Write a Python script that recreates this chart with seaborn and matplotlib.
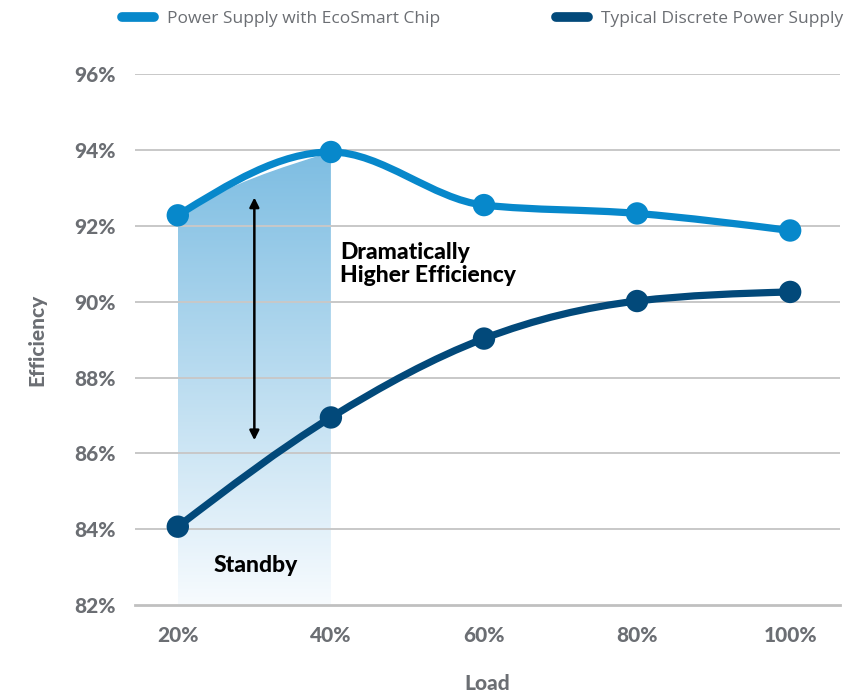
import numpy as np
import pandas as pd
import matplotlib
matplotlib.use("Agg")
import matplotlib.pyplot as plt
from matplotlib.path import Path
from matplotlib.patches import PathPatch
from matplotlib.lines import Line2D
import seaborn as sns

# ---- data -------------------------------------------------------------
load = [20, 40, 60, 80, 100]
ecosmart = [92.28, 93.95, 92.55, 92.33, 91.88]
discrete = [84.07, 86.95, 89.03, 90.02, 90.26]
series_names = ["Power Supply with EcoSmart Chip", "Typical Discrete Power Supply"]
x_ticks = [20, 40, 60, 80, 100]
x_tick_labels = ["20%", "40%", "60%", "80%", "100%"]
y_ticks = [82, 84, 86, 88, 90, 92, 94, 96]
y_tick_labels = ["82%", "84%", "86%", "88%", "90%", "92%", "94%", "96%"]

C_ECO = "#0788cb"
C_DIS = "#02497a"
C_GREY = "#6b6e73"

sns.set_theme(style="whitegrid")
plt.rcParams["font.family"] = ["Lato", "DejaVu Sans"]


def monotone_path(xs, ys):
    """Monotone cubic curve through the points, as a Bezier path."""
    xs = np.asarray(xs, float)
    ys = np.asarray(ys, float)
    n = len(xs)
    h = np.diff(xs)
    s = np.diff(ys) / h
    t = np.zeros(n)
    for i in range(1, n - 1):
        s0, s1 = s[i - 1], s[i]
        p = (s0 * h[i] + s1 * h[i - 1]) / (h[i - 1] + h[i])
        t[i] = (np.sign(s0) + np.sign(s1)) * min(abs(s0), abs(s1), 0.5 * abs(p))
    t[0] = (3 * s[0] - t[1]) / 2
    t[-1] = (3 * s[-1] - t[-2]) / 2
    verts = [(xs[0], ys[0])]
    codes = [Path.MOVETO]
    for i in range(n - 1):
        dx = h[i] / 3
        verts += [(xs[i] + dx, ys[i] + dx * t[i]),
                  (xs[i + 1] - dx, ys[i + 1] - dx * t[i + 1]),
                  (xs[i + 1], ys[i + 1])]
        codes += [Path.CURVE4] * 3
    return verts, codes


df = pd.DataFrame({
    "Load": load * 2,
    "Efficiency": ecosmart + discrete,
    "Series": [series_names[0]] * len(load) + [series_names[1]] * len(load),
})

fig = plt.figure(figsize=(8.65, 6.94), dpi=100)
ax = fig.add_axes([0.156, 0.128, 0.815, 0.765])

# gradient band over the standby region (20%-40%), clipped under the EcoSmart curve
v, c = monotone_path(load[:2], ecosmart[:2])
band_verts = v + [(load[1], 82), (load[0], 82), v[0]]
band_codes = c + [Path.LINETO, Path.LINETO, Path.CLOSEPOLY]
band = PathPatch(Path(band_verts, band_codes), facecolor="none", edgecolor="none")
ax.add_patch(band)
grad = np.linspace(0, 1, 256).reshape(-1, 1)
cmap = matplotlib.colors.LinearSegmentedColormap.from_list("band", ["#f7fbfe", "#7dbde2"])
img = ax.imshow(grad, extent=[load[0], load[1], 82, ecosmart[1]], origin="lower",
                aspect="auto", cmap=cmap, zorder=0.2)
img.set_clip_path(band)

# smooth lines
for ys, col in [(ecosmart, C_ECO), (discrete, C_DIS)]:
    v, c = monotone_path(load, ys)
    ax.add_patch(PathPatch(Path(v, c), facecolor="none", edgecolor=col,
                           lw=5.2, capstyle="round", zorder=3))

# markers
sns.scatterplot(data=df, x="Load", y="Efficiency", hue="Series",
                palette=[C_ECO, C_DIS], s=260, linewidth=0, legend=False,
                ax=ax, zorder=4)

# double arrow
ax.annotate("", xy=(30, 92.75), xytext=(30, 86.35),
            arrowprops=dict(arrowstyle="<|-|>", color="black", lw=1.8,
                            mutation_scale=14, shrinkA=0, shrinkB=0), zorder=5)

ax.text(41.2, 91.0, "Dramatically\nHigher Efficiency", fontsize=16.5, fontweight="black",
        color="black", va="center", ha="left", linespacing=1.1)
ax.text(30.2, 83.05, "Standby", fontsize=16.5, fontweight="black", color="black",
        va="center", ha="center")

# axes styling
ax.set_xlim(14.4, 106.5)
ax.set_ylim(82, 96)
ax.set_xticks(x_ticks)
ax.set_xticklabels(x_tick_labels)
ax.set_yticks(y_ticks)
ax.set_yticklabels(y_tick_labels)
ax.grid(axis="x", visible=False)
ax.grid(axis="y", color="#c8c8c8", lw=1.4)
ax.set_axisbelow(False)
for gl in ax.get_ygridlines():
    gl.set_zorder(1)
for sp in ["left", "right", "top"]:
    ax.spines[sp].set_visible(False)
ax.spines["bottom"].set_color("#c0c0c0")
ax.spines["bottom"].set_linewidth(2)
ax.tick_params(axis="both", length=0, labelsize=15, colors=C_GREY)
ax.tick_params(axis="x", pad=15)
ax.tick_params(axis="y", pad=14)
for lab in ax.get_xticklabels() + ax.get_yticklabels():
    lab.set_fontweight("black")
ax.set_xlabel("Load", fontsize=15, fontweight="black", color=C_GREY, labelpad=21)
ax.set_ylabel("Efficiency", fontsize=15, fontweight="black", color=C_GREY, labelpad=20)

# legend: one entry per series, placed along the top
leg_prop = {"family": ["Open Sans", "DejaVu Sans"], "size": 12.5}
for (name, col), x0 in zip([(series_names[0], C_ECO), (series_names[1], C_DIS)],
                           [0.125, 0.627]):
    h = Line2D([0], [0], color=col, lw=7, solid_capstyle="round")
    leg = fig.legend([h], [name], loc="upper left", bbox_to_anchor=(x0, 1.004),
                     frameon=False, handlelength=1.85, handletextpad=0.75,
                     borderpad=0.3, prop=leg_prop)
    for t in leg.get_texts():
        t.set_color(C_GREY)

fig.savefig("out.png", dpi=100)
